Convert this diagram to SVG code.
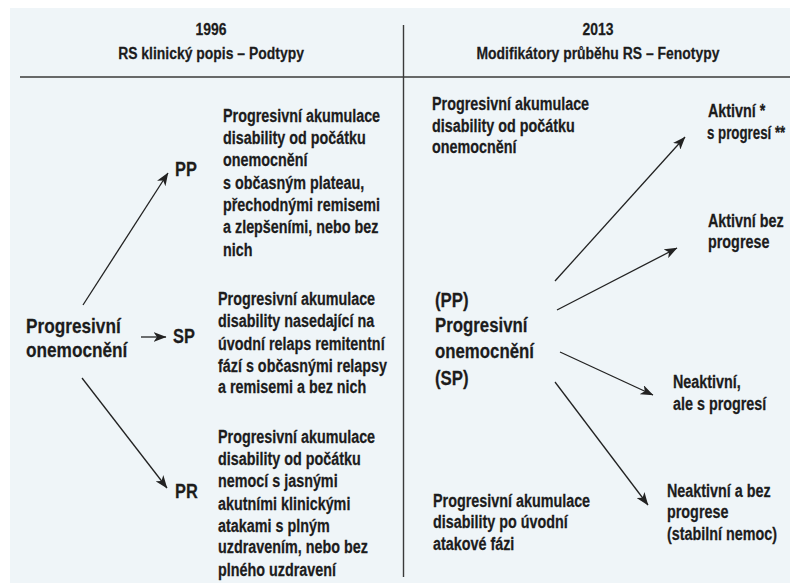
<svg xmlns="http://www.w3.org/2000/svg" width="790" height="583" viewBox="0 0 790 583">
<defs>
<style>
text{font-family:"Liberation Sans",Arial,sans-serif;font-weight:bold;fill:#1c1c1c;stroke:#1c1c1c;stroke-width:0.25}
.h{font-size:17px;text-anchor:middle}
.d{font-size:17.5px}
.lab{font-size:20px}
.big{font-size:21px}
.mid{font-size:20.5px}
.rule{stroke:#3a3a3a;stroke-width:1.4;fill:none}
.c{stroke:#222;stroke-width:1.3;fill:none;marker-end:url(#ah)}
</style>
<marker id="ah" viewBox="0 0 13 10" refX="12.5" refY="5" markerWidth="13" markerHeight="10" markerUnits="userSpaceOnUse" orient="auto">
<path d="M0,0 L13,5 L0,10 L3.5,5 Z" fill="#222"/>
</marker>
</defs>
<rect width="790" height="583" fill="#ffffff"/>
<rect x="10" y="8" width="780" height="575" fill="#eff5f8"/>
<g id="frame">
<line class="rule" x1="20" y1="77" x2="790" y2="77"/>
<line class="rule" x1="403.5" y1="25" x2="403.5" y2="577"/>
</g>
<g id="header-1996" transform="translate(211,0) scale(0.82,1)">
<text class="h" x="0" y="35">1996</text>
<text class="h" x="0" y="59">RS klinický popis – Podtypy</text>
</g>
<g id="header-2013" transform="translate(598,0) scale(0.82,1)">
<text class="h" x="0" y="35">2013</text>
<text class="h" x="0" y="59">Modifikátory průběhu RS – Fenotypy</text>
</g>
<g id="left-root" transform="translate(26,0) scale(0.82,1)">
<text class="big" x="0" y="333">Progresivní</text>
<text class="big" x="0" y="357">onemocnění</text>
</g>
<g id="pp">
<g transform="translate(175,0) scale(0.82,1)"><text class="lab" x="0" y="176">PP</text></g>
<g transform="translate(223,0) scale(0.82,1)"><text class="d"><tspan x="0" y="122">Progresivní akumulace</tspan><tspan x="0" y="144">disability od počátku</tspan><tspan x="0" y="166">onemocnění</tspan><tspan x="0" y="189">s občasným plateau,</tspan><tspan x="0" y="211">přechodnými remisemi</tspan><tspan x="0" y="233">a zlepšeními, nebo bez</tspan><tspan x="0" y="256">nich</tspan></text></g>
</g>
<g id="sp">
<g transform="translate(173,0) scale(0.82,1)"><text class="lab" x="0" y="343">SP</text></g>
<g transform="translate(218,0) scale(0.82,1)"><text class="d"><tspan x="0" y="305">Progresivní akumulace</tspan><tspan x="0" y="327">disability nasedající na</tspan><tspan x="0" y="350">úvodní relaps remitentní</tspan><tspan x="0" y="372">fází s občasnými relapsy</tspan><tspan x="0" y="393">a remisemi a bez nich</tspan></text></g>
</g>
<g id="pr">
<g transform="translate(175,0) scale(0.82,1)"><text class="lab" x="0" y="498">PR</text></g>
<g transform="translate(218,0) scale(0.82,1)"><text class="d"><tspan x="0" y="443">Progresivní akumulace</tspan><tspan x="0" y="465">disability od počátku</tspan><tspan x="0" y="487">nemocí s jasnými</tspan><tspan x="0" y="510">akutními klinickými</tspan><tspan x="0" y="532">atakami s plným</tspan><tspan x="0" y="553">uzdravením, nebo bez</tspan><tspan x="0" y="576">plného uzdravení</tspan></text></g>
</g>
<g id="right-top-note" transform="translate(432,0) scale(0.82,1)">
<text class="d"><tspan x="0" y="110">Progresivní akumulace</tspan><tspan x="0" y="132">disability od počátku</tspan><tspan x="0" y="153">onemocnění</tspan></text>
</g>
<g id="right-root" transform="translate(435,0) scale(0.82,1)">
<text class="mid"><tspan x="0" y="307">(PP)</tspan><tspan x="0" y="332">Progresivní</tspan><tspan x="0" y="358">onemocnění</tspan><tspan x="0" y="385">(SP)</tspan></text>
</g>
<g id="right-bottom-note" transform="translate(433,0) scale(0.82,1)">
<text class="d"><tspan x="0" y="507">Progresivní akumulace</tspan><tspan x="0" y="528">disability po úvodní</tspan><tspan x="0" y="550">atakové fázi</tspan></text>
</g>
<g id="active-prog">
<g transform="translate(708,0) scale(0.82,1)"><text class="d" x="0" y="117">Aktivní *</text></g>
<g transform="translate(707,0) scale(0.76,1)"><text class="d" x="0" y="139">s progresí **</text></g>
</g>
<g id="active-noprog" transform="translate(708,0) scale(0.82,1)">
<text class="d"><tspan x="0" y="227">Aktivní bez</tspan><tspan x="0" y="248">progrese</tspan></text>
</g>
<g id="inactive-prog" transform="translate(673,0) scale(0.82,1)">
<text class="d"><tspan x="0" y="388">Neaktivní,</tspan><tspan x="0" y="410">ale s progresí</tspan></text>
</g>
<g id="inactive-noprog" transform="translate(667,0) scale(0.82,1)">
<text class="d"><tspan x="0" y="497">Neaktivní a bez</tspan><tspan x="0" y="518">progrese</tspan><tspan x="0" y="540">(stabilní nemoc)</tspan></text>
</g>
<g id="connectors">
<line class="c" x1="83" y1="305" x2="168" y2="173"/>
<line class="c" x1="141" y1="337" x2="166" y2="337"/>
<line class="c" x1="82" y1="378" x2="167" y2="488"/>
<line class="c" x1="555" y1="281" x2="685" y2="137"/>
<line class="c" x1="557" y1="310" x2="677" y2="248"/>
<line class="c" x1="560" y1="352" x2="653" y2="395"/>
<line class="c" x1="555" y1="382" x2="648" y2="505"/>
</g>
</svg>
